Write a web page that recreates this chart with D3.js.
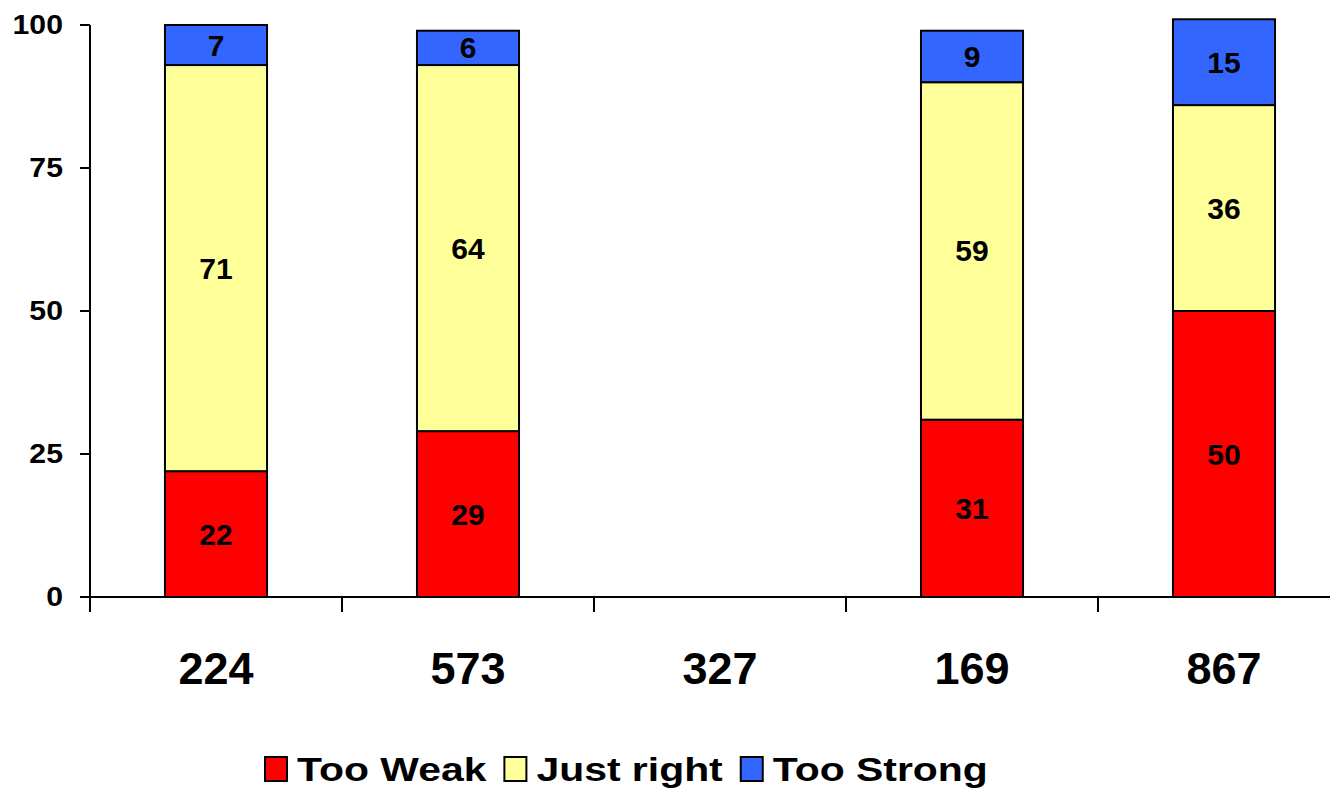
<!DOCTYPE html>
<html>
<head>
<meta charset="utf-8">
<script src="https://cdn.jsdelivr.net/npm/d3@7"></script>
<style>
  html, body { margin: 0; padding: 0; background: #fff; }
  svg text { font-family: Arial, "Liberation Sans", sans-serif; font-weight: bold; fill: #000; }
</style>
</head>
<body>
<svg id="chart" width="1330" height="792"></svg>
<script>
const categories = ["224", "573", "327", "169", "867"];
const seriesNames = ["Too Weak", "Just right", "Too Strong"];
const tooWeak   = [22, 29, null, 31, 50];
const justRight = [71, 64, null, 59, 36];
const tooStrong = [7, 6, null, 9, 15];
const yTicks = [0, 25, 50, 75, 100];
const colors = ["#FF0000", "#FFFF99", "#3366FF"];

(function () {
const svg = d3.select("#chart");
const mLeft = 90, mRight = 1350, mTop = 25, mBottom = 597;

const x = d3.scaleBand().domain(categories).range([mLeft, mRight])
  .paddingInner(0.595).paddingOuter(0.2975);
const y = d3.scaleLinear().domain([0, 100]).range([mBottom, mTop]);

const rows = categories.map((c, i) => ({
  cat: c, "Too Weak": tooWeak[i], "Just right": justRight[i], "Too Strong": tooStrong[i]
}));
const stack = d3.stack().keys(seriesNames).value((d, k) => d[k] == null ? 0 : d[k]);
const layers = stack(rows);

// bars
const g = svg.append("g");
layers.forEach((layer, li) => {
  layer.forEach((seg) => {
    const v = seg.data[layer.key];
    if (v == null || v === 0) return;
    g.append("rect")
      .attr("x", x(seg.data.cat))
      .attr("width", x.bandwidth())
      .attr("y", y(seg[1]))
      .attr("height", y(seg[0]) - y(seg[1]))
      .attr("fill", colors[li])
      .attr("stroke", "#000")
      .attr("stroke-width", 2);
    g.append("text")
      .attr("x", x(seg.data.cat) + x.bandwidth() / 2)
      .attr("y", (y(seg[0]) + y(seg[1])) / 2)
      .attr("text-anchor", "middle")
      .attr("dominant-baseline", "central")
      .attr("font-size", 30)
      .text(v);
  });
});

// y axis
const yAxis = svg.append("g");
yAxis.append("line").attr("x1", mLeft).attr("x2", mLeft).attr("y1", y(100)).attr("y2", mBottom + 15)
  .attr("stroke", "#000").attr("stroke-width", 2);
yTicks.forEach(t => {
  yAxis.append("line").attr("x1", mLeft - 10).attr("x2", mLeft).attr("y1", y(t)).attr("y2", y(t))
    .attr("stroke", "#000").attr("stroke-width", 2);
  yAxis.append("text")
    .attr("transform", `translate(63,${y(t)}) scale(1.12,1)`)
    .attr("text-anchor", "end")
    .attr("dominant-baseline", "central")
    .attr("font-size", 27)
    .text(t);
});

// x axis
const xAxis = svg.append("g");
xAxis.append("line").attr("x1", mLeft - 10).attr("x2", 1330).attr("y1", mBottom).attr("y2", mBottom)
  .attr("stroke", "#000").attr("stroke-width", 2);
const step = x.step();
categories.forEach((c, i) => {
  const tx = mLeft + i * step;
  if (i > 0) {
    xAxis.append("line").attr("x1", tx).attr("x2", tx).attr("y1", mBottom).attr("y2", mBottom + 15)
      .attr("stroke", "#000").attr("stroke-width", 2);
  }
  xAxis.append("text")
    .attr("x", x(c) + x.bandwidth() / 2)
    .attr("y", 684)
    .attr("text-anchor", "middle")
    .attr("font-size", 45)
    .text(c);
});

// legend
const legend = svg.append("g");
let lx = 265;
const sx = 1.24;
seriesNames.forEach((name, i) => {
  legend.append("rect").attr("x", lx).attr("y", 757).attr("width", 22).attr("height", 24)
    .attr("fill", colors[i]).attr("stroke", "#000").attr("stroke-width", 2);
  const t = legend.append("text")
    .attr("transform", `translate(${lx + 32},781) scale(${sx},1)`)
    .attr("font-size", 33)
    .text(name);
  const w = t.node().getComputedTextLength() * sx;
  lx = lx + 32 + w + 18;
});
})();
</script>
</body>
</html>
